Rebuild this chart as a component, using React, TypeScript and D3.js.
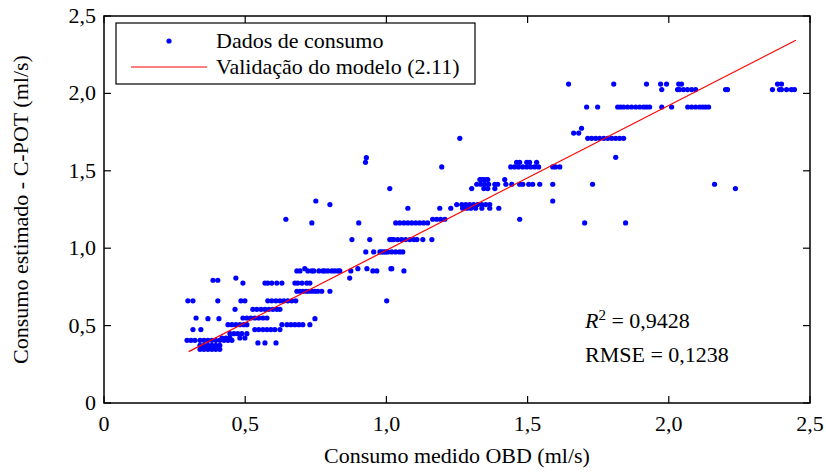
import React from "react";
import * as d3 from "d3";

const W = 826;
const H = 472;

const xTicks = [0, 0.5, 1.0, 1.5, 2.0, 2.5];
const yTicks = [0, 0.5, 1.0, 1.5, 2.0, 2.5];
const tickLabels = ["0", "0,5", "1,0", "1,5", "2,0", "2,5"];

// Observed points grouped by estimated-consumption level
const levelY = [
  2.06, 2.025, 1.912, 1.775, 1.744, 1.71, 1.587, 1.585, 1.555, 1.525, 1.443, 1.413, 1.385,
  1.305, 1.282, 1.258, 1.187, 1.163, 1.056, 0.976, 0.868, 0.853, 0.807, 0.793, 0.775,
  0.722, 0.66, 0.605, 0.549, 0.545, 0.506, 0.474, 0.448, 0.42, 0.405, 0.388, 0.373, 0.36, 0.347,
];
const levelX = [
  [1.645, 1.805, 1.921, 1.971, 1.992, 2.035, 2.045, 2.385, 2.399],
  [1.975, 2.031, 2.038, 2.052, 2.066, 2.081, 2.095, 2.201, 2.208, 2.367, 2.392, 2.399, 2.417, 2.434, 2.445],
  [1.709, 1.748, 1.819, 1.829, 1.84, 1.854, 1.868, 1.883, 1.897, 1.911, 1.921, 1.932, 1.975, 2.01, 2.067, 2.081, 2.095, 2.109, 2.12, 2.13, 2.141],
  [1.691],
  [1.663, 1.681],
  [1.26, 1.713, 1.727, 1.741, 1.755, 1.77, 1.784, 1.798, 1.812, 1.826, 1.84],
  [1.812],
  [0.929],
  [0.926, 1.461, 1.472, 1.497, 1.507, 1.532],
  [1.196, 1.44, 1.454, 1.468, 1.483, 1.497, 1.511, 1.525, 1.539, 1.589, 1.599, 1.614],
  [1.331, 1.338, 1.345, 1.355, 1.359, 1.419],
  [1.32, 1.334, 1.348, 1.362, 1.384, 1.394, 1.423, 1.444, 1.472, 1.483, 1.504, 1.518, 1.543, 1.589, 1.73, 2.162],
  [1.012, 1.302, 1.345, 1.359, 1.384, 2.236],
  [0.75, 1.589],
  [0.8, 1.249, 1.267, 1.281, 1.295, 1.309, 1.323, 1.338, 1.352, 1.366],
  [1.076, 1.189, 1.228, 1.27, 1.285, 1.299, 1.316, 1.338, 1.366, 1.398],
  [0.644, 1.164, 1.178, 1.192, 1.207, 1.472],
  [0.736, 0.902, 1.033, 1.047, 1.062, 1.076, 1.09, 1.104, 1.118, 1.132, 1.146, 1.702, 1.847],
  [0.878, 0.941, 1.012, 1.019, 1.026, 1.04, 1.054, 1.068, 1.083, 1.097, 1.108, 1.129, 1.161],
  [0.927, 0.955, 0.977, 0.984, 0.991, 0.998, 1.005, 1.019, 1.033, 1.047, 1.058],
  [0.711, 0.899, 0.931, 1.016, 1.019],
  [0.683, 0.694, 0.722, 0.736, 0.743, 0.761, 0.775, 0.782, 0.793, 0.807, 0.817, 0.828, 0.835, 0.874, 0.952, 0.966, 1.062],
  [0.467, 0.87],
  [0.386, 0.403],
  [0.492, 0.57, 0.58, 0.594, 0.612, 0.63, 0.676, 0.686, 0.701, 0.718, 0.729],
  [0.683, 0.694, 0.704, 0.715, 0.725, 0.736, 0.747, 0.757, 0.771, 0.8],
  [0.297, 0.315, 0.403, 0.485, 0.499, 0.58, 0.594, 0.609, 0.623, 0.637, 0.651, 0.665, 0.679, 1.001],
  [0.464, 0.527, 0.541, 0.556, 0.57, 0.584, 0.598, 0.612, 0.623],
  [0.326, 0.492, 0.506, 0.52, 0.534, 0.548, 0.563, 0.577],
  [0.368, 0.407, 0.747],
  [0.439, 0.453, 0.467, 0.481, 0.495, 0.506, 0.63, 0.648, 0.662, 0.676, 0.69, 0.704, 0.729],
  [0.315, 0.343, 0.534, 0.548, 0.563, 0.577, 0.591, 0.605, 0.623],
  [0.446, 0.46, 0.474, 0.488, 0.506],
  [0.418, 0.432, 0.446, 0.481, 0.499],
  [0.294, 0.308, 0.322, 0.34, 0.354, 0.368, 0.382, 0.396, 0.41, 0.425, 0.439, 0.453],
  [0.545, 0.57, 0.609],
  [0.34, 0.354, 0.368, 0.382, 0.396, 0.41],
  [0.345, 0.36, 0.375, 0.39, 0.405],
  [0.34, 0.354, 0.368, 0.382, 0.396, 0.41],
];

// Model validation line (2.11)
const fitX = [0.3, 2.45];
const fitY = [0.332, 2.343];

const FONT = "'Liberation Serif', 'Times New Roman', serif";

export default function App() {
  const left = 104;
  const right = 810;
  const top = 16;
  const bottom = 403;
  const x = d3.scaleLinear().domain([0, 2.5]).range([left, right]);
  const y = d3.scaleLinear().domain([0, 2.5]).range([bottom, top]);

  const points: [number, number][] = [];
  levelY.forEach((lv, i) => levelX[i].forEach((xv) => points.push([xv, lv])));

  const line = d3
    .line<number>()
    .x((_, i) => x(fitX[i]))
    .y((_, i) => y(fitY[i]));

  const tl = 7;
  const fs = 22;

  return (
    <svg width={W} height={H} style={{ position: "absolute", left: 0, top: 0 }} fontFamily={FONT}>
      <rect x={0} y={0} width={W} height={H} fill="#fff" />
      {/* points */}
      {points.map((p, i) => (
        <circle key={i} cx={x(p[0])} cy={y(p[1])} r={2.6} fill="#0000ff" />
      ))}
      <path d={line(fitX) || ""} stroke="#ff0000" strokeWidth={1.2} fill="none" />
      {/* frame */}
      <rect x={left} y={top} width={right - left} height={bottom - top} fill="none" stroke="#000" strokeWidth={1.5} />
      {xTicks.map((t, i) => (
        <g key={"x" + i}>
          <line x1={x(t)} x2={x(t)} y1={bottom} y2={bottom - tl} stroke="#000" strokeWidth={1.2} />
          <line x1={x(t)} x2={x(t)} y1={top} y2={top + tl} stroke="#000" strokeWidth={1.2} />
          <text x={x(t)} y={431} textAnchor="middle" fontSize={fs}>
            {tickLabels[i]}
          </text>
        </g>
      ))}
      {yTicks.map((t, i) => (
        <g key={"y" + i}>
          <line x1={left} x2={left + tl} y1={y(t)} y2={y(t)} stroke="#000" strokeWidth={1.2} />
          <line x1={right} x2={right - tl} y1={y(t)} y2={y(t)} stroke="#000" strokeWidth={1.2} />
          <text x={96} y={y(t) + 7} textAnchor="end" fontSize={fs}>
            {tickLabels[i]}
          </text>
        </g>
      ))}
      <text x={(left + right) / 2} y={463} textAnchor="middle" fontSize={fs}>
        Consumo medido OBD (ml/s)
      </text>
      <text transform={`translate(28, ${(top + bottom) / 2}) rotate(-90)`} textAnchor="middle" fontSize={fs}>
        Consumo estimado - C-POT (ml/s)
      </text>
      {/* legend */}
      <rect x={116} y={23} width={359} height={61} fill="#fff" stroke="#000" strokeWidth={1.2} />
      <circle cx={169} cy={41} r={2.6} fill="#0000ff" />
      <text x={216} y={48} fontSize={fs}>
        Dados de consumo
      </text>
      <line x1={131} x2={207} y1={67} y2={67} stroke="#ff0000" strokeWidth={1.2} />
      <text x={216} y={74} fontSize={fs}>
        Validação do modelo (2.11)
      </text>
      {/* stats */}
      <text x={585} y={328} fontSize={fs}>
        <tspan fontStyle="italic">R</tspan>
        <tspan dy={-8} fontSize={15}>2</tspan>
        <tspan dy={8}> = 0,9428</tspan>
      </text>
      <text x={585} y={362} fontSize={fs}>
        RMSE = 0,1238
      </text>
    </svg>
  );
}
